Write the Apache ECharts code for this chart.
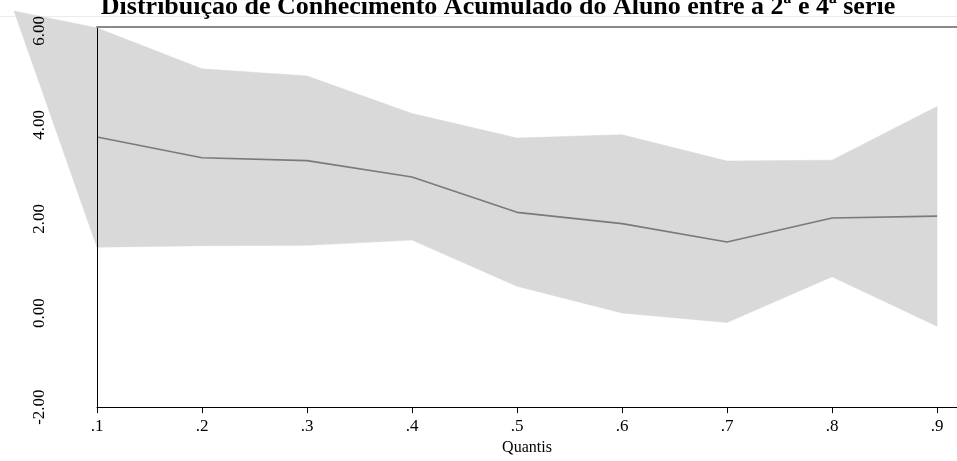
<!DOCTYPE html>
<html>
<head>
<meta charset="utf-8">
<script src="https://cdn.jsdelivr.net/npm/echarts@6/dist/echarts.min.js"></script>
<style>
html,body{margin:0;padding:0;background:#fff;}
#chart{width:957px;height:461px;}
</style>
</head>
<body>
<div id="chart"></div>
<script>
// Quantiles (x positions) of the estimates
var quantis = [0.1, 0.2, 0.3, 0.4, 0.5, 0.6, 0.7, 0.8, 0.9];
// Point estimate
var estimate = [3.74, 3.30, 3.24, 2.89, 2.14, 1.90, 1.51, 2.02, 2.06];
// Confidence band (first point is the stray vertex drawn left of the axis in the original)
var bandX  = [0.021, 0.1, 0.2, 0.3, 0.4, 0.5, 0.6, 0.7, 0.8, 0.9];
var bandLo = [6.42, 1.40, 1.43, 1.44, 1.55, 0.57, 0.00, -0.20, 0.77, -0.28];
var bandHi = [6.42, 6.06, 5.19, 5.04, 4.24, 3.72, 3.79, 3.23, 3.25, 4.39];
// Tick values
var xTicks = [0.1, 0.2, 0.3, 0.4, 0.5, 0.6, 0.7, 0.8, 0.9];
var yTicks = [-2, 0, 2, 4, 6];

var titleText = 'Distribuição de Conhecimento Acumulado do Aluno entre a 2ª e 4ª série';

var bandData = bandX.map(function (x, i) { return [x, bandLo[i], bandHi[i]]; });
var lineData = quantis.map(function (x, i) { return [x, estimate[i]]; });

function renderBand(params, api) {
  if (params.dataIndexInside !== 0) return;
  var n = params.dataInsideLength;
  var top = [], bottom = [];
  for (var i = 0; i < n; i++) {
    var x = api.value(0, i);
    top.push(api.coord([x, api.value(2, i)]));
    bottom.unshift(api.coord([x, api.value(1, i)]));
  }
  return {
    type: 'polygon',
    shape: {points: top.concat(bottom)},
    style: {fill: '#d9d9d9', stroke: '#d6d6d6', lineWidth: 0.5},
    silent: true
  };
}

var chart = echarts.init(document.getElementById('chart'), null, {renderer: 'canvas'});
var serif = '"Liberation Serif", "Times New Roman", serif';
chart.setOption({
  animation: false,
  backgroundColor: '#fff',
  title: {
    text: titleText,
    left: 493,
    top: -11,
    textAlign: 'center',
    textStyle: {fontFamily: serif, fontWeight: 'bold', fontSize: 26, color: '#000'}
  },
  graphic: [{
    type: 'line', z: -10,
    shape: {x1: 0, y1: 16.5, x2: 957, y2: 16.5},
    style: {stroke: '#ececec', lineWidth: 1}
  }],
  grid: {left: 97, right: 0, top: 27, bottom: 50, containLabel: false},
  xAxis: [{
    type: 'value', z: 10,
    min: 0.1, max: 0.919, interval: 0.1,
    name: 'Quantis',
    nameLocation: 'middle',
    nameGap: 29,
    nameTextStyle: {fontFamily: serif, fontSize: 16, color: '#000'},
    axisLine: {show: true, onZero: false, lineStyle: {color: '#000', width: 1}},
    axisTick: {show: true, length: 6, customValues: xTicks, lineStyle: {color: '#000'}},
    axisLabel: {
      customValues: xTicks, margin: 11,
      fontFamily: serif, fontSize: 17, color: '#000',
      formatter: function (v) { return String(Math.round(v * 10) / 10).replace(/^0/, ''); }
    },
    splitLine: {show: false}
  }, {
    type: 'value', position: 'top', z: 10,
    min: 0.1, max: 0.919,
    axisLine: {show: true, onZero: false, lineStyle: {color: '#8a8a8a', width: 2}},
    axisTick: {show: false}, axisLabel: {show: false}, splitLine: {show: false}
  }],
  yAxis: {
    type: 'value', z: 10,
    min: -2, max: 6.08, interval: 2,
    axisLine: {show: true, onZero: false, lineStyle: {color: '#000', width: 1}},
    axisTick: {show: false},
    axisLabel: {
      customValues: yTicks, rotate: 90, margin: 49,
      fontFamily: serif, fontSize: 17, color: '#000',
      formatter: function (v) { return v.toFixed(2); }
    },
    splitLine: {show: false}
  },
  series: [{
    name: 'band', type: 'custom', data: bandData,
    encode: {x: 0, y: [1, 2]},
    renderItem: renderBand, clip: false, silent: true, z: 1
  }, {
    name: 'estimate', type: 'line', data: lineData,
    symbol: 'none', clip: false, z: 3,
    lineStyle: {color: '#7a7a7a', width: 1.6}
  }]
});
</script>
</body>
</html>
